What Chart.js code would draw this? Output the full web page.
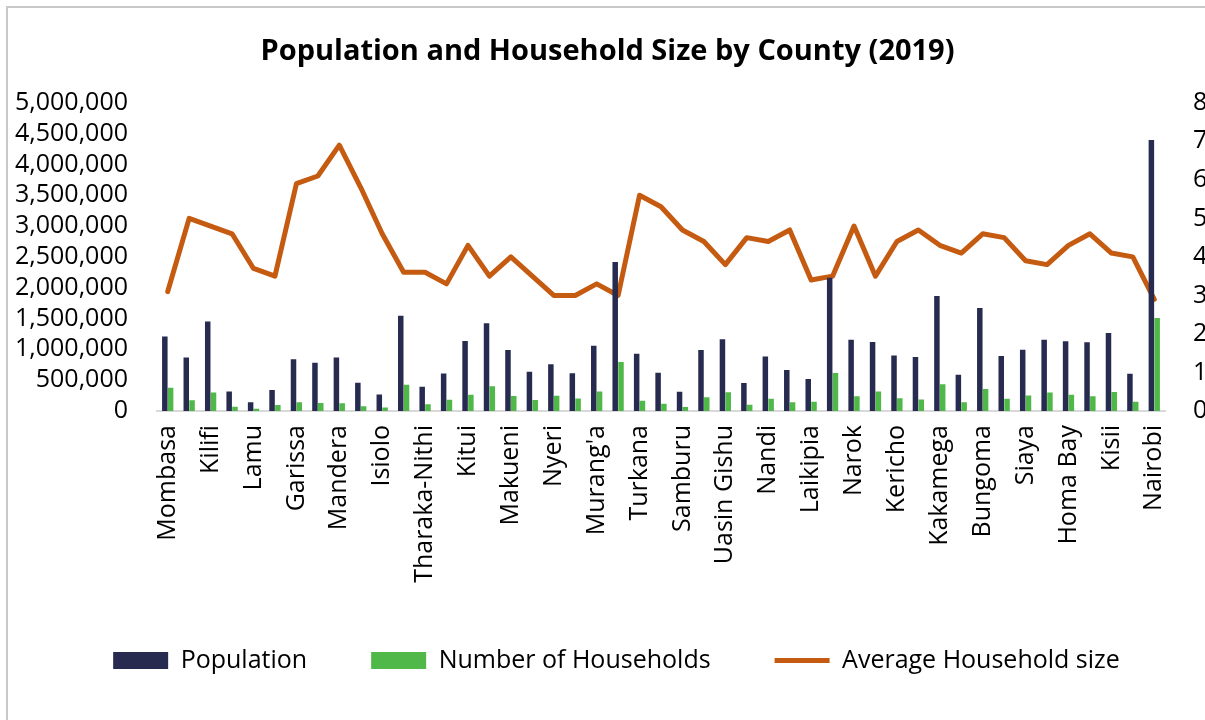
<!DOCTYPE html>
<html>
<head>
<meta charset="utf-8">
<title>Population and Household Size by County (2019)</title>
<script src="https://cdn.jsdelivr.net/npm/chart.js@4/dist/chart.umd.min.js"></script>
<style>
    html, body { margin: 0; padding: 0; background: #fff; overflow: hidden; }
    #frame { position: absolute; left: 6px; top: 6px; width: 1300px; height: 800px;
             border-left: 2px solid #c9c9c9; border-top: 2px solid #c9c9c9; }
    #wrap { position: absolute; left: 0; top: 0; width: 1215px; height: 720px; }
</style>
</head>
<body>
<div id="frame"></div>
<div id="wrap"><canvas id="chart-county"></canvas></div>
<script>
const counties = ['Mombasa', 'Kwale', 'Kilifi', 'Tana River', 'Lamu', 'Taita Taveta', 'Garissa', 'Wajir',
    'Mandera', 'Marsabit', 'Isiolo', 'Meru', 'Tharaka-Nithi', 'Embu', 'Kitui', 'Machakos', 'Makueni',
    'Nyandarua', 'Nyeri', 'Kirinyaga', "Murang'a", 'Kiambu', 'Turkana', 'West Pokot', 'Samburu',
    'Trans Nzoia', 'Uasin Gishu', 'Elgeyo-Marakwet', 'Nandi', 'Baringo', 'Laikipia', 'Nakuru', 'Narok',
    'Kajiado', 'Kericho', 'Bomet', 'Kakamega', 'Vihiga', 'Bungoma', 'Busia', 'Siaya', 'Kisumu',
    'Homa Bay', 'Migori', 'Kisii', 'Nyamira', 'Nairobi'];

const population = [1208333, 866820, 1453787, 315943, 143920, 340671, 841353, 781263,
    867457, 459785, 268002, 1545714, 393177, 608599, 1136187, 1421932, 987653,
    638289, 759164, 610411, 1056640, 2417735, 926976, 621241, 310327,
    990341, 1163186, 454480, 885711, 666763, 518560, 2162202, 1157873,
    1117840, 901777, 875689, 1867579, 590013, 1670570, 893681, 993183, 1155574,
    1131950, 1116436, 1266860, 605576, 4397073];

const households = [378422, 173176, 298472, 68242, 37963, 96429, 141394, 127932,
    125763, 77495, 58072, 426360, 109860, 182743, 262942, 402466, 244669,
    179686, 248050, 204188, 318105, 795241, 164519, 116182, 65910,
    223808, 304943, 99861, 199426, 142518, 149271, 616046, 241125,
    316179, 206036, 187641, 433207, 143365, 358796, 198152, 250698, 300745,
    262036, 240168, 308054, 150669, 1506888];

const avgHouseholdSize = [3.1, 5.0, 4.8, 4.6, 3.7, 3.5, 5.9, 6.1,
    6.9, 5.8, 4.6, 3.6, 3.6, 3.3, 4.3, 3.5, 4.0,
    3.5, 3.0, 3.0, 3.3, 3.0, 5.6, 5.3, 4.7,
    4.4, 3.8, 4.5, 4.4, 4.7, 3.4, 3.5, 4.8,
    3.5, 4.4, 4.7, 4.3, 4.1, 4.6, 4.5, 3.9, 3.8,
    4.3, 4.6, 4.1, 4.0, 2.9];

const FONT = "'Open Sans', sans-serif";
const PLOT_LEFT = 157, PLOT_RIGHT = 1165, CANVAS_W = 1215;

// the legend in the original sits a little right of centre
const legendNudge = {
    id: 'legendNudge',
    afterLayout(chart) {
        chart.legend.left += 9;
        chart.legend.right += 9;
    },
};

const ctx = document.getElementById('chart-county');
new Chart(ctx, {
    data: {
        labels: counties,
        datasets: [
            {
                type: 'bar', label: 'Population', data: population, yAxisID: 'y', order: 0,
                backgroundColor: '#272b4f', pointStyle: 'rect',
                categoryPercentage: 0.54, barPercentage: 0.95,
            },
            {
                type: 'bar', label: 'Number of Households', data: households, yAxisID: 'y', order: 1,
                backgroundColor: '#50b848', pointStyle: 'rect',
                categoryPercentage: 0.54, barPercentage: 0.95,
            },
            {
                // drawn first so the bars sit on top of it, as in the original
                type: 'line', label: 'Average Household size', data: avgHouseholdSize, yAxisID: 'y1', order: 2,
                borderColor: '#c55a11', backgroundColor: '#c55a11', borderWidth: 5,
                borderJoinStyle: 'round', borderCapStyle: 'round',
                pointRadius: 0, pointStyle: 'line', tension: 0,
            },
        ],
    },
    plugins: [legendNudge],
    options: {
        responsive: true,
        maintainAspectRatio: false,
        animation: false,
        layout: { padding: { left: 0, right: 0, top: 0, bottom: 37 } },
        plugins: {
            title: {
                display: true,
                text: 'Population and Household Size by County (2019)',
                color: '#000',
                font: { family: FONT, size: 29, weight: 'bold' },
                padding: { top: 34, bottom: 34 },
            },
            legend: {
                position: 'bottom',
                labels: {
                    color: '#000',
                    font: { family: FONT, size: 25 },
                    usePointStyle: true,
                    pointStyleWidth: 55,
                    boxHeight: 17,
                    padding: 64,
                },
            },
            tooltip: { enabled: false },
        },
        scales: {
            x: {
                grid: { display: false, drawTicks: false },
                border: { color: '#d9d9d9', width: 2 },
                ticks: {
                    color: '#000', font: { family: FONT, size: 25 },
                    autoSkip: false, minRotation: 90, maxRotation: 90, padding: 14,
                    callback: (v, i) => i % 2 === 0 ? counties[i] : '',
                },
                afterFit: s => { s.height = 173; },
            },
            y: {
                position: 'left', min: 0, max: 5000000,
                grid: { display: false, drawTicks: false },
                border: { display: false },
                ticks: {
                    stepSize: 500000, autoSkip: false, color: '#000', font: { family: FONT, size: 25 }, padding: 29,
                    callback: v => v.toLocaleString('en-US'),
                },
                afterFit: s => { s.width = PLOT_LEFT; },
            },
            y1: {
                position: 'right', min: 0, max: 8,
                grid: { display: false, drawTicks: false },
                border: { display: false },
                ticks: { stepSize: 1, autoSkip: false, color: '#000', font: { family: FONT, size: 25 }, padding: 28 },
                afterFit: s => { s.width = CANVAS_W - PLOT_RIGHT; },
            },
        },
    },
});
</script>
</body>
</html>
